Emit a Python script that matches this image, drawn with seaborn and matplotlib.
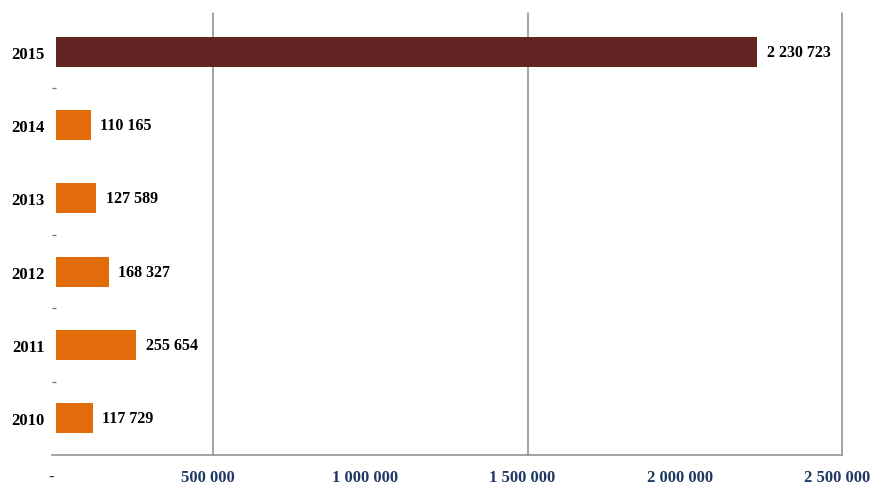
import matplotlib
matplotlib.use("Agg")
import matplotlib.pyplot as plt
import matplotlib.ticker as mticker
import matplotlib.transforms as mtrans
import seaborn as sns
import pandas as pd

# Annual totals
years = ["2015", "2014", "2013", "2012", "2011", "2010"]
values = [2230723, 110165, 127589, 168327, 255654, 117729]
bar_colors = ["#632523", "#E36C0A", "#E36C0A", "#E36C0A", "#E36C0A", "#E36C0A"]
x_ticks = [0, 500000, 1000000, 1500000, 2000000, 2500000]
grid_at = [500000, 1500000, 2500000]

def fmt_space(v):
    """Number with a space as thousands separator; zero shown as a dash."""
    v = int(round(v))
    if v == 0:
        return "-"
    return f"{v:,}".replace(",", " ")

sns.set_theme(style="white")
plt.rcParams["font.family"] = ["Liberation Serif", "DejaVu Serif"]

df = pd.DataFrame({"year": years, "value": values})

fig = plt.figure(figsize=(8.72, 4.89), dpi=100)
ax = fig.add_axes([56 / 872, 1 - 456 / 489, (842 - 56) / 872, (456 - 16) / 489])

sns.barplot(data=df, x="value", y="year", hue="year", order=years,
            palette=dict(zip(years, bar_colors)), legend=False,
            width=0.41, saturation=1, linewidth=0, ax=ax)
for p in ax.patches:
    p.set_zorder(2)

ax.set_xlim(0, 2500000)
ax.set_ylim(len(years) - 0.5, -0.5)

# value labels at the end of each bar
for i, v in enumerate(values):
    ax.text(v + 30000, i, fmt_space(v), va="center", ha="left",
            fontsize=11.5, fontweight="bold", color="black", zorder=3)

# x axis: labels every 500 000, vertical lines every 1 000 000 from 500 000
ax.xaxis.set_major_locator(mticker.FixedLocator(x_ticks))
ax.xaxis.set_major_formatter(mticker.FuncFormatter(lambda v, p: fmt_space(v)))
ax.xaxis.set_minor_locator(mticker.FixedLocator(grid_at))
ax.tick_params(axis="x", which="major", length=0, pad=10, labelsize=12,
               labelcolor="#1F3864")
ax.tick_params(axis="x", which="minor", length=4, width=1, color="#8C8C8C",
               direction="out", bottom=True)
shift = mtrans.ScaledTranslation(-5 / 100, 0, fig.dpi_scale_trans)
for lab in ax.get_xticklabels():
    lab.set_fontweight("bold")
    lab.set_transform(lab.get_transform() + shift)
ax.grid(False)
for g in grid_at:
    ax.axvline(g, ymin=0, ymax=1.005, color="#8C8C8C", lw=1.1, zorder=1,
               clip_on=False)

# y axis: year labels with small dashes between categories
ax.set_yticks(range(len(years)))
ax.set_yticklabels(years, fontsize=12, fontweight="bold", color="black")
ax.yaxis.set_minor_locator(mticker.FixedLocator([0.5, 2.5, 3.5, 4.5]))
ax.tick_params(axis="y", which="major", length=0, pad=8)
ax.tick_params(axis="y", which="minor", length=3, width=0.9, color="#6F6F6F",
               direction="out", left=True, pad=0)

ax.set_xlabel("")
ax.set_ylabel("")
for side in ["top", "right", "left"]:
    ax.spines[side].set_visible(False)
ax.spines["bottom"].set_color("#8C8C8C")
ax.spines["bottom"].set_linewidth(1.1)
ax.spines["bottom"].set_bounds(-13000, 2500000)

fig.savefig("out.png", dpi=100, facecolor="white")
